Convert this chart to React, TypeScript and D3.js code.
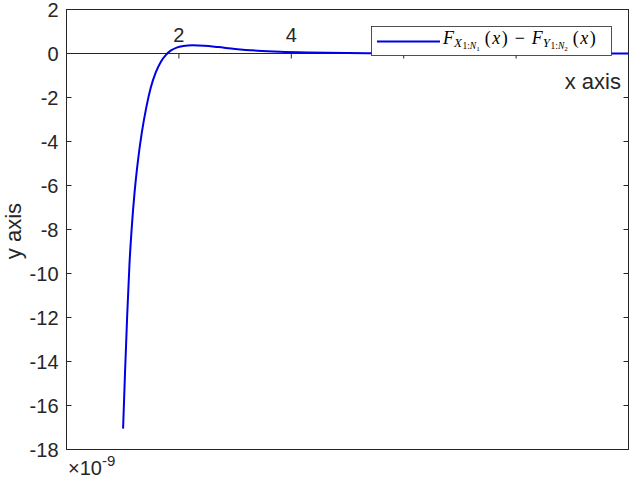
import React, { useEffect, useRef } from 'react';
import * as d3 from 'd3';

// curve values (x in units of the axis, y in 1e-9)
const xValues = [1.007, 1.04, 1.08, 1.12, 1.16, 1.21, 1.27, 1.34, 1.42, 1.5, 1.59, 1.68, 1.77, 1.86, 1.96, 2.08, 2.24, 2.45, 2.7, 3.0, 3.4, 3.8, 4.3, 5.0, 6.0, 7.0, 8.0, 10.0];
const yValues = [-17.05, -14.6, -11.9, -9.6, -7.95, -6.35, -4.9, -3.6, -2.45, -1.55, -0.85, -0.37, -0.06, 0.14, 0.27, 0.34, 0.37, 0.35, 0.29, 0.21, 0.13, 0.08, 0.045, 0.02, 0.01, 0.005, 0.002, 0.0];
const xTicks = [2, 4, 6, 8];
const yTicks = [2, 0, -2, -4, -6, -8, -10, -12, -14, -16, -18];

const W = 632;
const H = 478;
const axisColor = '#262626';
const sans = '"Liberation Sans", Arial, sans-serif';
const serif = '"Liberation Serif", "Times New Roman", serif';

const App = () => {
  const svgRef = useRef<SVGSVGElement>(null);

  useEffect(() => {
    const svg = d3.select(svgRef.current);
    svg.selectAll('*').remove();

    const x = d3.scaleLinear().domain([0, 10]).range([66.5, 628.5]);
    const y = d3.scaleLinear().domain([-18, 2]).range([449.5, 9.5]);

    // y ticks, left and right, pointing inward
    const yt = svg.append('g');
    yt.selectAll('line.l')
      .data(yTicks)
      .join('line')
      .attr('class', 'l')
      .attr('x1', x(0))
      .attr('x2', x(0) + 5)
      .attr('y1', (d) => y(d))
      .attr('y2', (d) => y(d))
      .attr('stroke', axisColor);
    yt.selectAll('line.r')
      .data(yTicks)
      .join('line')
      .attr('class', 'r')
      .attr('x1', x(10))
      .attr('x2', x(10) - 5)
      .attr('y1', (d) => y(d))
      .attr('y2', (d) => y(d))
      .attr('stroke', axisColor);
    yt.selectAll('text')
      .data(yTicks)
      .join('text')
      .attr('x', x(0) - 8)
      .attr('y', (d) => y(d) + 7)
      .attr('text-anchor', 'end')
      .attr('font-family', sans)
      .attr('font-size', 20)
      .attr('fill', axisColor)
      .text((d) => String(d));

    // x axis through the origin
    svg.append('line')
      .attr('x1', x(0))
      .attr('x2', x(10))
      .attr('y1', y(0))
      .attr('y2', y(0))
      .attr('stroke', axisColor);
    svg.selectAll('line.xt')
      .data(xTicks)
      .join('line')
      .attr('class', 'xt')
      .attr('x1', (d) => x(d))
      .attr('x2', (d) => x(d))
      .attr('y1', y(0))
      .attr('y2', y(0) + 5)
      .attr('stroke', axisColor);
    svg.selectAll('text.xt')
      .data(xTicks)
      .join('text')
      .attr('class', 'xt')
      .attr('x', (d) => x(d))
      .attr('y', y(0) - 12)
      .attr('text-anchor', 'middle')
      .attr('font-family', sans)
      .attr('font-size', 20)
      .attr('fill', axisColor)
      .text((d) => String(d));

    // box
    svg.append('rect')
      .attr('x', x(0))
      .attr('y', y(2))
      .attr('width', x(10) - x(0))
      .attr('height', y(-18) - y(2))
      .attr('fill', 'none')
      .attr('stroke', axisColor);

    // curve
    const line = d3
      .line<number>()
      .x((d, i) => x(xValues[i]))
      .y((d) => y(d))
      .curve(d3.curveMonotoneX);
    svg.append('path')
      .attr('d', line(yValues))
      .attr('fill', 'none')
      .attr('stroke', '#0000e6')
      .attr('stroke-width', 2);

    // axis labels
    svg.append('text')
      .attr('x', 621)
      .attr('y', 89)
      .attr('text-anchor', 'end')
      .attr('font-family', sans)
      .attr('font-size', 22)
      .attr('fill', axisColor)
      .text('x axis');
    svg.append('text')
      .attr('transform', `translate(21,231) rotate(-90)`)
      .attr('text-anchor', 'middle')
      .attr('font-family', sans)
      .attr('font-size', 22)
      .attr('fill', axisColor)
      .text('y axis');

    // exponent
    const ex = svg.append('text')
      .attr('x', 68)
      .attr('y', 475)
      .attr('font-family', sans)
      .attr('font-size', 20)
      .attr('fill', axisColor);
    ex.append('tspan').text('×10');
    ex.append('tspan').attr('font-size', 15).attr('dy', -9).text('-9');

    // legend
    const lg = svg.append('g');
    lg.append('rect')
      .attr('x', 371.5)
      .attr('y', 26.5)
      .attr('width', 240)
      .attr('height', 29)
      .attr('fill', '#fff')
      .attr('stroke', axisColor)
      .attr('stroke-width', 0.8);
    lg.append('line')
      .attr('x1', 377)
      .attr('x2', 440)
      .attr('y1', 41.5)
      .attr('y2', 41.5)
      .attr('stroke', '#0000e6')
      .attr('stroke-width', 2);
    const t = lg.append('text')
      .attr('x', 443)
      .attr('y', 44)
      .attr('font-family', serif)
      .attr('font-size', 18)
      .attr('fill', '#000');
    const term = (sym: string, idx: string, first: boolean) => {
      t.append('tspan').attr('font-style', 'italic').attr('dx', first ? 0 : 7).text('F');
      t.append('tspan').attr('font-style', 'italic').attr('font-size', 13).attr('dx', 0).attr('dy', 3).text(sym);
      t.append('tspan').attr('font-size', 9.5).attr('dx', 0.5).attr('dy', 2).text('1:');
      t.append('tspan').attr('font-style', 'italic').attr('font-size', 9.5).text('N');
      t.append('tspan').attr('font-size', 7).attr('dy', 1.5).text(idx);
      t.append('tspan').attr('dx', 5).attr('dy', -6.5).text('(');
      t.append('tspan').attr('font-style', 'italic').attr('dx', 1.5).text('x');
      t.append('tspan').attr('dx', 1.5).text(')');
    };
    term('X', '1', true);
    t.append('tspan').attr('dx', 7).text('−');
    term('Y', '2', false);
  }, []);

  return (
    <svg
      ref={svgRef}
      width={W}
      height={H}
      style={{ position: 'absolute', left: 0, top: 0, background: '#fff' }}
    />
  );
};

export default App;
